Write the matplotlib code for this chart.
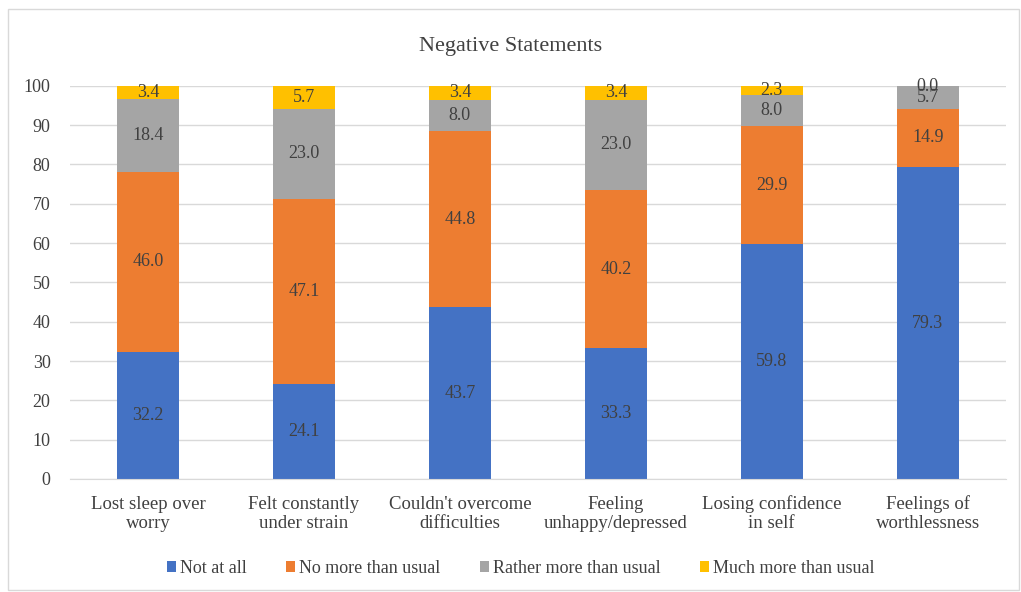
import numpy as np
import matplotlib.pyplot as plt
from matplotlib.patches import Rectangle

plt.rcParams['font.family'] = ['Liberation Serif', 'DejaVu Serif']

# Datos de las afirmaciones negativas (%)
categorias = ['Lost sleep over\nworry', 'Felt constantly\nunder strain', "Couldn't overcome\ndifficulties",
              'Feeling\nunhappy/depressed', 'Losing confidence\nin self', 'Feelings of\nworthlessness']
not_at_all = [32.2, 24.1, 43.7, 33.3, 59.8, 79.3]
no_more = [46.0, 47.1, 44.8, 40.2, 29.9, 14.9]
rather_more = [18.4, 23.0, 8.0, 23.0, 8.0, 5.7]
much_more = [3.4, 5.7, 3.4, 3.4, 2.3, 0.0]

series = [('Not at all', not_at_all, '#4472C4'),
          ('No more than usual', no_more, '#ED7D31'),
          ('Rather more than usual', rather_more, '#A5A5A5'),
          ('Much more than usual', much_more, '#FFC000')]

fig = plt.figure(figsize=(10.21, 5.92), dpi=100)
fig.patches.append(Rectangle((0.008, 0.004), 0.99, 0.98, transform=fig.transFigure,
                             fill=False, edgecolor='#D9D9D9', linewidth=1))
ax = fig.add_axes([0.0686, 0.191, 0.9164, 0.664])

x = np.arange(len(categorias))
base = np.zeros(len(categorias))
for nombre, vals, color in series:
    vals = np.array(vals)
    ax.bar(x, vals, bottom=base, width=0.4, color=color, label=nombre, zorder=2)
    for xi, b, v in zip(x, base, vals):
        ax.text(xi, b + v / 2, f'{v:.1f}', ha='center', va='center',
                fontsize=13, color='#404040', zorder=3)
    base = base + vals

ax.set_xlim(-0.5, len(categorias) - 0.5)
ax.set_ylim(0, 100)
ax.set_yticks(range(0, 101, 10))
ax.set_xticks(x)
ax.set_xticklabels(categorias, fontsize=13.5, color='#404040', linespacing=1.15)
ax.tick_params(axis='y', labelsize=13, labelcolor='#404040', length=0, pad=14)
ax.tick_params(axis='x', length=0, pad=12)
ax.grid(axis='y', color='#D9D9D9', linewidth=1, zorder=0)
for s in ['top', 'right', 'left']:
    ax.spines[s].set_visible(False)
ax.spines['bottom'].set_color('#D9D9D9')

fig.text(0.5, 0.922, 'Negative Statements', ha='center', va='center',
         fontsize=16, color='#404040')

fig.legend(loc='center', bbox_to_anchor=(0.51, 0.04), ncol=4, frameon=False,
           fontsize=13, handlelength=0.5, handleheight=0.5, handletextpad=0.2,
           columnspacing=2.2, labelcolor='#404040')

plt.savefig('out.png', dpi=100)
